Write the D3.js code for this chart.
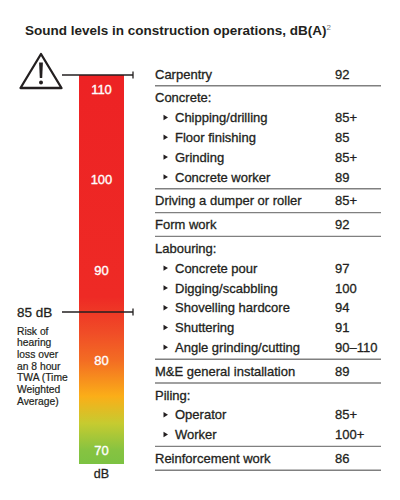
<!DOCTYPE html>
<html>
<head>
<meta charset="utf-8">
<script src="https://cdn.jsdelivr.net/npm/d3@7"></script>
<style>
  body { margin: 0; background: #fff; }
  svg { display: block; }
  text { font-family: "Liberation Sans", Arial, sans-serif; fill: #231f20; }
  .heavy { stroke: #231f20; stroke-width: 0.3px; }
</style>
</head>
<body>
<svg id="chart" width="400" height="500"></svg>
<script>
// scale tick labels on the bar (dB)
const dbTicks = [70, 80, 90, 100, 110];
const dbThreshold = 85;
const dbRange = [68.5, 111.6];

// gradient along the bar
const gradientDb = [111.6, 87, 83, 80, 76, 73, 70, 68.5];
const gradientColors = ['#ed2224', '#ee2a25', '#f04d27', '#f36c23', '#fbae18', '#c6cb30', '#86c341', '#7cc242'];

// table sections
const sections = ['Carpentry', 'Concrete:', 'Driving a dumper or roller', 'Form work',
  'Labouring:', 'M&E general installation', 'Piling:', 'Reinforcement work'];
const sectionValues = ['92', '', '85+', '92', '', '89', '', '86'];

const concreteTasks = ['Chipping/drilling', 'Floor finishing', 'Grinding', 'Concrete worker'];
const concreteValues = ['85+', '85', '85+', '89'];
const labouringTasks = ['Concrete pour', 'Digging/scabbling', 'Shovelling hardcore', 'Shuttering', 'Angle grinding/cutting'];
const labouringValues = ['97', '100', '94', '91', '90\u2013110'];
const pilingTasks = ['Operator', 'Worker'];
const pilingValues = ['85+', '100+'];

const riskNote = ['Risk of', 'hearing', 'loss over', 'an 8 hour', 'TWA (Time', 'Weighted', 'Average)'];

const subTasks = {
  'Concrete:': { labels: concreteTasks, values: concreteValues },
  'Labouring:': { labels: labouringTasks, values: labouringValues },
  'Piling:': { labels: pilingTasks, values: pilingValues },
};

const svg = d3.select('#chart');

// title
const title = svg.append('text')
  .attr('x', 25)
  .attr('y', 35)
  .style('font-size', '13.5px')
  .style('font-weight', 'bold');
title.append('tspan').text('Sound levels in construction operations, dB(A)');
title.append('tspan')
  .attr('dy', -5)
  .style('font-size', '8px')
  .style('font-weight', 'normal')
  .style('fill', '#777')
  .text('2');

// ---- left: dB bar ----
const bar = { x: 79, width: 45 };
const y = d3.scaleLinear().domain(dbRange).range([464, 75]);

const defs = svg.append('defs');
const grad = defs.append('linearGradient')
  .attr('id', 'db-grad')
  .attr('gradientUnits', 'userSpaceOnUse')
  .attr('x1', 0).attr('x2', 0)
  .attr('y1', y(dbRange[1])).attr('y2', y(dbRange[0]));
grad.selectAll('stop')
  .data(gradientDb)
  .enter().append('stop')
  .attr('offset', d => (y(d) - y(dbRange[1])) / (y(dbRange[0]) - y(dbRange[1])))
  .attr('stop-color', (d, i) => gradientColors[i]);

svg.append('rect')
  .attr('x', bar.x)
  .attr('y', y(dbRange[1]))
  .attr('width', bar.width)
  .attr('height', y(dbRange[0]) - y(dbRange[1]))
  .style('fill', 'url(#db-grad)');

svg.selectAll('.db-tick')
  .data(dbTicks)
  .enter().append('text')
  .attr('class', 'db-tick')
  .attr('x', bar.x + bar.width / 2)
  .attr('y', d => y(d))
  .attr('dy', '0.36em')
  .attr('text-anchor', 'middle')
  .style('font-size', '13px')
  .style('fill', '#fff')
  .style('stroke', '#fff')
  .style('stroke-width', 0.35)
  .text(d => d);

svg.append('text')
  .attr('x', bar.x + bar.width / 2)
  .attr('y', y(dbRange[0]) + 14)
  .attr('text-anchor', 'middle')
  .attr('class', 'heavy')
  .style('font-size', '12.5px')
  .text('dB');

// marker lines at the top of the scale and at the threshold
function markerLine(yPos) {
  const g = svg.append('g').attr('transform', `translate(0 ${yPos})`);
  g.append('line')
    .attr('x1', 62).attr('x2', 133)
    .style('stroke', '#231f20').style('stroke-width', 1.5);
  g.append('line')
    .attr('x1', 133).attr('x2', 133).attr('y1', -3.5).attr('y2', 3.5)
    .style('stroke', '#231f20').style('stroke-width', 1.3);
}
markerLine(y(dbRange[1]));
markerLine(y(dbThreshold) - 3);

// warning sign
const warn = svg.append('g').attr('transform', 'translate(41 52.5)');
warn.append('path')
  .attr('d', 'M0,1.5 L20.5,35.5 L-20.5,35.5 Z')
  .style('fill', '#fff')
  .style('stroke', '#231f20')
  .style('stroke-width', 2.3)
  .style('stroke-linejoin', 'round');
warn.append('path')
  .attr('d', 'M-1.9,10 L1.9,10 L1.2,25.5 L-1.2,25.5 Z')
  .style('fill', '#231f20');
warn.append('circle')
  .attr('cy', 30).attr('r', 2)
  .style('fill', '#231f20');

// threshold label and note
svg.append('text')
  .attr('x', 17)
  .attr('y', y(dbThreshold) - 3)
  .attr('dy', '0.36em')
  .attr('class', 'heavy')
  .style('font-size', '13.5px')
  .text(`${dbThreshold} dB`);

svg.append('g').selectAll('text')
  .data(riskNote)
  .enter().append('text')
  .attr('x', 17)
  .attr('y', (d, i) => 334.5 + i * 11.7)
  .attr('class', 'heavy')
  .style('stroke-width', 0.2)
  .style('font-size', '10.3px')
  .text(d => d);

// ---- right: table ----
const table = { x1: 155, x2: 381, valueX: 335, taskX: 175, lineH: 19.8, pad: 4 };
let cursor = 62;
const rows = [];
const separators = [];
sections.forEach((name, i) => {
  const sub = subTasks[name];
  cursor += table.pad / 2;
  rows.push({ label: name, value: sectionValues[i], y: cursor + table.lineH / 2, sub: false });
  cursor += table.lineH;
  if (sub) {
    sub.labels.forEach((label, j) => {
      rows.push({ label, value: sub.values[j], y: cursor + table.lineH / 2, sub: true });
      cursor += table.lineH;
    });
  }
  cursor += table.pad / 2;
  separators.push(cursor);
});

const rowG = svg.append('g').selectAll('g')
  .data(rows)
  .enter().append('g')
  .attr('transform', d => `translate(0 ${d.y})`);

rowG.append('text')
  .attr('x', d => (d.sub ? table.taskX : table.x1))
  .attr('dy', '0.36em')
  .attr('class', 'heavy')
  .style('font-size', '13px')
  .text(d => d.label);

rowG.append('text')
  .attr('x', table.valueX)
  .attr('dy', '0.36em')
  .attr('class', 'heavy')
  .style('font-size', '13px')
  .text(d => d.value);

rowG.filter(d => d.sub).append('path')
  .attr('d', `M${table.x1 + 8.5},-2.7 L${table.x1 + 13},0 L${table.x1 + 8.5},2.7 Z`)
  .style('fill', '#231f20');

svg.append('g').selectAll('line')
  .data(separators)
  .enter().append('line')
  .attr('x1', table.x1).attr('x2', table.x2)
  .attr('y1', d => d).attr('y2', d => d)
  .style('stroke', '#808080')
  .style('stroke-width', 1.4);
</script>
</body>
</html>
